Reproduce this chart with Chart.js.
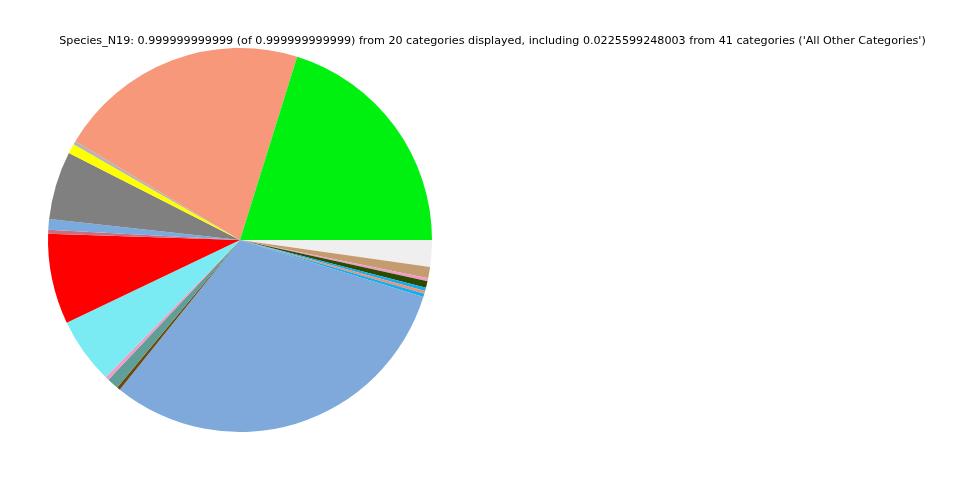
<!DOCTYPE html>
<html>
<head>
<meta charset="utf-8">
<script src="https://cdn.jsdelivr.net/npm/chart.js@4"></script>
<style>
  html, body { margin: 0; padding: 0; background: #fff; }
  #wrap { width: 960px; height: 480px; }
</style>
</head>
<body>
<div id="wrap"><canvas id="myPie" width="960" height="480"></canvas></div>
<script>
// slices in counterclockwise order starting at 3 o'clock (as in the original plot)
const categories = ['Cat 1', 'Cat 2', 'Cat 3', 'Cat 4', 'Cat 5', 'Cat 6', 'Cat 7', 'Cat 8', 'Cat 9', 'Cat 10',
  'Cat 11', 'Cat 12', 'Cat 13', 'Cat 14', 'Cat 15', 'Cat 16', 'Cat 17', 'Cat 18', 'Cat 19', 'All Other Categories'];
const values = [0.2019, 0.2122, 0.0028, 0.0083, 0.0575, 0.0089, 0.0033, 0.0761, 0.0558, 0.0031,
  0.0097, 0.0028, 0.3097, 0.0028, 0.0025, 0.0028, 0.0054, 0.0026, 0.0094, 0.0225599248003];
const colors = ['#00f00f', '#f7987a', '#b4b4b4', '#ffff00', '#808080', '#7aaade', '#c87080', '#ff0000', '#7aebf2', '#f29ac8',
  '#5f9f98', '#6b4a10', '#7ea9da', '#10b0f0', '#fa8a70', '#10b0f0', '#2c4a00', '#ef9ac7', '#c59c6f', '#efefef'];
const titleText = "Species_N19: 0.999999999999 (of 0.999999999999) from 20 categories displayed, including 0.0225599248003 from 41 categories ('All Other Categories')";

const titlePlugin = {
  id: 'topTitle',
  afterDraw(chart) {
    const c = chart.ctx;
    c.save();
    c.font = '11.15px "DejaVu Sans"';
    c.fillStyle = '#000';
    c.textAlign = 'center';
    c.textBaseline = 'alphabetic';
    c.fillText(titleText, 492.5, 44);
    c.restore();
  }
};

const pie = document.getElementById('myPie');

new Chart(pie, {
  type: 'pie',
  data: {
    // chart.js goes clockwise, so reverse to get matplotlib's counterclockwise order
    labels: categories.slice().reverse(),
    datasets: [{
      data: values.slice().reverse(),
      backgroundColor: colors.slice().reverse(),
      borderWidth: 0
    }]
  },
  options: {
    responsive: false,
    animation: false,
    rotation: 90,
    layout: { padding: { top: 48, bottom: 48, left: 48, right: 528 } },
    plugins: {
      legend: { display: false },
      tooltip: { enabled: false }
    }
  },
  plugins: [titlePlugin]
});
</script>
</body>
</html>
